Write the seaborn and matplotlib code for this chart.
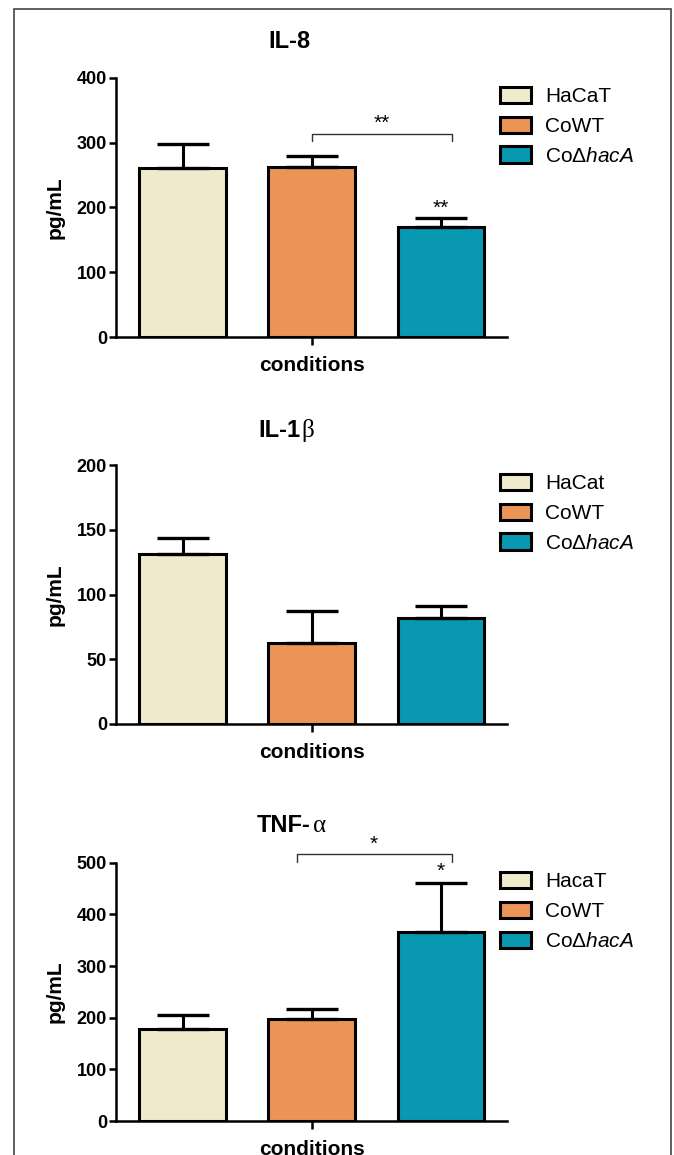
import numpy as np
import pandas as pd
import matplotlib
matplotlib.use("Agg")
import matplotlib.pyplot as plt
from matplotlib.patches import Rectangle
import seaborn as sns

# values (mean + upper error)
il8_groups = ["HaCaT", "CoWT", "Co$\\mathit{ΔhacA}$"]
il8_mean = [261, 263, 170]
il8_err = [36, 16, 14]

il1b_groups = ["HaCat", "CoWT", "Co$\\mathit{ΔhacA}$"]
il1b_mean = [131, 62.5, 82]
il1b_err = [13, 24.5, 9]

tnf_groups = ["HacaT", "CoWT", "Co$\\mathit{ΔhacA}$"]
tnf_mean = [179, 198, 366]
tnf_err = [27, 18, 94]

y_ticks = {
    "il8": [0, 100, 200, 300, 400],
    "il1b": [0, 50, 100, 150, 200],
    "tnf": [0, 100, 200, 300, 400, 500],
}
colors = ["#F0EACC", "#EC9456", "#0898B2"]

sns.set_style("ticks")
plt.rcParams["font.family"] = ["Liberation Sans", "DejaVu Sans"]
plt.rcParams["mathtext.fontset"] = "custom"
plt.rcParams["mathtext.rm"] = "Liberation Sans"
plt.rcParams["mathtext.it"] = "Liberation Sans:italic"
for key in ("text.color", "axes.labelcolor", "xtick.color", "ytick.color"):
    plt.rcParams[key] = "black"

W, H = 674, 1155
fig = plt.figure(figsize=(W / 100, H / 100), dpi=100)


def px_axes(top, bottom):
    left, right = 116, 507
    return fig.add_axes([left / W, 1 - bottom / H, (right - left) / W, (bottom - top) / H])


def panel(ax, groups, means, errs, ticks):
    df = pd.DataFrame({"cond": ["conditions"] * len(groups), "group": groups, "value": means})
    sns.barplot(data=df, x="cond", y="value", hue="group", hue_order=groups,
                palette=colors, saturation=1, gap=0.33, edgecolor="black", linewidth=2.2,
                errorbar=None, legend=False, ax=ax, zorder=2)
    bars = list(ax.containers)
    for cont, e in zip(bars, errs):
        p = cont.patches[0]
        ax.errorbar(p.get_x() + p.get_width() / 2, p.get_height(), yerr=[[0], [e]],
                    fmt="none", ecolor="black", elinewidth=2.2, capsize=18.5,
                    capthick=2.4, zorder=3)
    ax.set_xlim(-0.404, 0.403)
    ax.set_ylim(0, ticks[-1])
    ax.set_yticks(ticks)
    ax.set_yticklabels([str(t) for t in ticks], fontweight="bold", fontsize=13)
    ax.set_xticks([0])
    ax.set_xticklabels(["conditions"], fontweight="bold", fontsize=15)
    ax.set_xlabel("")
    ax.set_ylabel("pg/mL", fontweight="bold", fontsize=15, labelpad=9)
    ax.tick_params(axis="y", length=5, width=1.8, pad=1.5, colors="black")
    ax.tick_params(axis="x", length=6, width=1.8, pad=8, colors="black")
    sns.despine(ax=ax)
    for s in ("left", "bottom"):
        ax.spines[s].set_linewidth(1.8)
        ax.spines[s].set_color("black")
    return [c.patches[0] for c in bars]


def legend(handles, groups, top_px):
    fig.legend(handles, groups, loc="upper left",
               bbox_to_anchor=(500 / W, 1 - top_px / H), bbox_transform=fig.transFigure,
               frameon=False, fontsize=15, handlelength=1.5, handleheight=0.82,
               handletextpad=0.68, labelspacing=0.5, borderpad=0, borderaxespad=0)


def bracket(ax, x0, x1, y, drop, label, label_y):
    ax.plot([x0, x0, x1, x1], [y - drop, y, y, y - drop], color="#333333", lw=1.0,
            clip_on=False)
    ax.text((x0 + x1) / 2, label_y, label, ha="center", va="center", fontsize=15)


def title(main, greek, x_split, base_px):
    fig.text(x_split / W, 1 - base_px / H, main, ha="right", va="baseline",
             fontsize=17, fontweight="bold")
    if greek:
        fig.text((x_split + 1.5) / W, 1 - base_px / H, greek, ha="left", va="baseline",
                 fontsize=18, family="Liberation Serif")


# IL-8
ax1 = px_axes(77.7, 337)
h1 = panel(ax1, il8_groups, il8_mean, il8_err, y_ticks["il8"])
legend(h1, il8_groups, 87)
w = 0.2667
bracket(ax1, 0, w + 0.022, 312.5, 10, "**", 330)
ax1.text(w, 199, "**", ha="center", va="center", fontsize=15)
fig.text(311 / W, 1 - 48 / H, "IL-8", ha="right", va="baseline", fontsize=17,
         fontweight="bold")

# IL-1beta
ax2 = px_axes(465, 724)
h2 = panel(ax2, il1b_groups, il1b_mean, il1b_err, y_ticks["il1b"])
legend(h2, il1b_groups, 474)
title("IL-1", "β", 300, 437)

# TNF-alpha
ax3 = px_axes(862.7, 1121)
h3 = panel(ax3, tnf_groups, tnf_mean, tnf_err, y_ticks["tnf"])
legend(h3, tnf_groups, 872)
bracket(ax3, -0.031, w + 0.022, 517, 15, "*", 536)
ax3.text(w, 484, "*", ha="center", va="center", fontsize=15)
title("TNF-", "α", 311, 832)

# outer frame
fig.patches.append(Rectangle((14 / W, -0.05), (671 - 14) / W, 1.05 - 9 / H,
                             transform=fig.transFigure, fill=False,
                             edgecolor="#444444", lw=1.2))

fig.savefig("out.png", dpi=100)
